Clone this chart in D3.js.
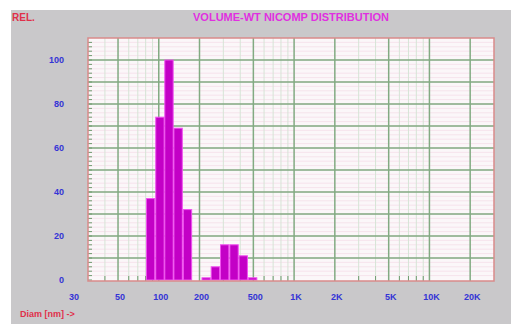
<!DOCTYPE html>
<html>
<head>
<meta charset="utf-8">
<script src="https://cdn.jsdelivr.net/npm/d3@7"></script>
<style>
	body { margin: 0; background: #fff; }
	text { font-family: "Liberation Sans", Arial, sans-serif; font-weight: bold; }
</style>
</head>
<body>
<div id="chart"></div>
<script>
// bin centre diameters (nm) and relative volume-weighted values
var diameters = [87, 102, 119, 139, 163, 191, 224, 262, 307, 360, 421, 494];
var volumes = [37, 74, 100, 69, 32, 0, 1, 6, 16, 16, 11, 1];

var xTicks = [30, 50, 100, 200, 500, 1000, 2000, 5000, 10000, 20000];
var xTickLabels = ["30", "50", "100", "200", "500", "1K", "2K", "5K", "10K", "20K"];
var yTicks = [0, 20, 40, 60, 80, 100];

var width = 521,
	height = 324,
	plot = { left: 88, right: 494, top: 38, bottom: 281 },
	xScale = d3.scaleLog().domain([30, 30000]).range([plot.left, plot.right]),
	yScale = d3.scaleLinear().domain([0, 110]).range([280, 38]);

var svg = d3.select("#chart").append("svg")
	.attr("width", width)
	.attr("height", height);

// grey panel
svg.append("rect")
	.attr("x", 11).attr("y", 10)
	.attr("width", 500).attr("height", 314)
	.attr("fill", "#c9c8ca");

// plot background
svg.append("rect")
	.attr("x", plot.left).attr("y", plot.top)
	.attr("width", plot.right - plot.left)
	.attr("height", plot.bottom - plot.top)
	.attr("fill", "#fbf7f9");

var grid = svg.append("g").attr("class", "grid");

// faint pink lines every 2 units
grid.selectAll("line.fine")
	.data(d3.range(2, 110, 2))
	.enter().append("line")
	.attr("x1", plot.left).attr("x2", plot.right)
	.attr("y1", function(d) { return yScale(d); })
	.attr("y2", function(d) { return yScale(d); })
	.attr("stroke", "#f6e3ec")
	.attr("stroke-width", 1);

// minor log verticals
var minorX = xScale.ticks().filter(function(d) { return xTicks.indexOf(d) == -1 && d > 30 && d < 30000; });
grid.selectAll("line.minor")
	.data(minorX)
	.enter().append("line")
	.attr("x1", function(d) { return xScale(d); })
	.attr("x2", function(d) { return xScale(d); })
	.attr("y1", plot.top).attr("y2", plot.bottom)
	.attr("stroke", "#d6e4d6")
	.attr("stroke-width", 1);

// major horizontals every 10
grid.selectAll("line.hmajor")
	.data(d3.range(10, 110, 10))
	.enter().append("line")
	.attr("x1", plot.left).attr("x2", plot.right)
	.attr("y1", function(d) { return yScale(d); })
	.attr("y2", function(d) { return yScale(d); })
	.attr("stroke", "#82aa82")
	.attr("stroke-width", 1.5);

// major verticals
grid.selectAll("line.vmajor")
	.data(xTicks.slice(1))
	.enter().append("line")
	.attr("x1", function(d) { return xScale(d); })
	.attr("x2", function(d) { return xScale(d); })
	.attr("y1", plot.top).attr("y2", plot.bottom)
	.attr("stroke", "#82aa82")
	.attr("stroke-width", 1.5);

// small ticks on the left edge and bottom
grid.selectAll("line.ytick")
	.data(d3.range(0, 110, 2))
	.enter().append("line")
	.attr("x1", plot.left).attr("x2", plot.left + 4)
	.attr("y1", function(d) { return yScale(d); })
	.attr("y2", function(d) { return yScale(d); })
	.attr("stroke", "#6f9a6f");
grid.selectAll("line.xtick")
	.data(minorX)
	.enter().append("line")
	.attr("x1", function(d) { return xScale(d); })
	.attr("x2", function(d) { return xScale(d); })
	.attr("y1", plot.bottom - 5).attr("y2", plot.bottom)
	.attr("stroke", "#6f9a6f");

// bars, width from the log step between bins
var step = Math.sqrt(diameters[1] / diameters[0]);
svg.append("g").attr("class", "bars")
	.selectAll("rect")
	.data(diameters.map(function(d, i) { return { diam: d, value: volumes[i] }; }))
	.enter().append("rect")
	.attr("x", function(d) { return xScale(d.diam / step) + 0.5; })
	.attr("width", function(d) { return xScale(d.diam * step) - xScale(d.diam / step) - 1; })
	.attr("y", function(d) { return yScale(d.value); })
	.attr("height", function(d) { return yScale(0) - yScale(d.value); })
	.attr("fill", "#c300c6")
	.attr("stroke", "#f050f0")
	.attr("stroke-width", 1)
	.style("display", function(d) { return d.value > 0 ? null : "none"; });

// plot frame
svg.append("rect")
	.attr("x", plot.left).attr("y", plot.top)
	.attr("width", plot.right - plot.left)
	.attr("height", plot.bottom - plot.top)
	.attr("fill", "none")
	.attr("stroke", "#d98a8a")
	.attr("stroke-width", 1.5);

// y labels
svg.append("g").selectAll("text")
	.data(yTicks)
	.enter().append("text")
	.attr("x", 64)
	.attr("y", function(d) { return yScale(d) + 3; })
	.attr("text-anchor", "end")
	.attr("font-size", 9)
	.attr("fill", "#3434d6")
	.text(function(d) { return d; });

// x labels
svg.append("g").selectAll("text")
	.data(xTicks)
	.enter().append("text")
	.attr("x", function(d, i) { return i == 0 ? xScale(d) - 14 : xScale(d) + 2; })
	.attr("y", 300)
	.attr("text-anchor", "middle")
	.attr("font-size", 9)
	.attr("fill", "#3434d6")
	.text(function(d, i) { return xTickLabels[i]; });

svg.append("text")
	.attr("x", 12).attr("y", 21)
	.attr("font-size", 10)
	.attr("fill", "#e0304a")
	.text("REL.");

svg.append("text")
	.attr("x", 291).attr("y", 21)
	.attr("text-anchor", "middle")
	.attr("font-size", 11)
	.attr("fill", "#e030e0")
	.text("VOLUME-WT NICOMP DISTRIBUTION");

svg.append("text")
	.attr("x", 20).attr("y", 317)
	.attr("font-size", 9)
	.attr("fill", "#e0304a")
	.text("Diam [nm] ->");
</script>
</body>
</html>
